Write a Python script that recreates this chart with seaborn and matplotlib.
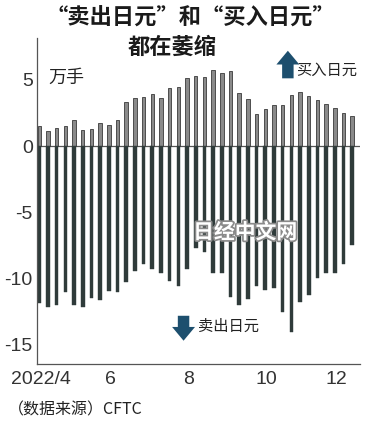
import matplotlib
matplotlib.use('Agg')
import matplotlib.pyplot as plt
import matplotlib.patheffects as pe
import numpy as np
import pandas as pd
import seaborn as sns

# weekly CFTC yen positions, 10k contracts, from 2022/4
buy_yen = [1.53, 1.10, 1.35, 1.50, 1.93, 1.20, 1.30, 1.75, 1.60, 1.93,
           3.33, 3.65, 3.73, 3.93, 3.60, 4.35, 4.45, 5.10, 5.30, 5.20,
           5.75, 5.50, 5.68, 4.03, 3.55, 2.38, 2.78, 3.13, 3.13, 3.85,
           4.10, 3.80, 3.45, 3.18, 2.90, 2.48, 2.30]
sell_yen = [-11.84, -12.17, -12.02, -11.00, -11.97, -12.17, -11.44, -11.59, -10.96, -11.00,
            -10.23, -9.42, -8.89, -9.29, -9.55, -10.20, -10.53, -9.27, -7.70, -8.00,
            -9.57, -9.57, -11.40, -12.00, -11.56, -10.53, -10.86, -10.73, -12.50, -14.00,
            -11.80, -11.24, -9.97, -9.55, -9.55, -8.89, -7.50]
tick_idx = [0, 8, 17, 26, 34]
tick_labels = ['2022/4', '6', '8', '10', '12']
y_ticks = [5, 0, -5, -10, -15]

df = pd.DataFrame({'week': range(len(buy_yen)), 'buy': buy_yen, 'sell': sell_yen})

sns.set_style('white')
plt.rcParams['font.family'] = ['Noto Sans CJK SC', 'DejaVu Sans']
num_font = ['Liberation Sans Narrow', 'Liberation Sans', 'DejaVu Sans']

fig = plt.figure(figsize=(3.7, 4.25), dpi=100)
ax = fig.add_axes([0.1, 0.1435, 0.873, 0.767])

sns.barplot(data=df, x='week', y='buy', color='#8a8a8a', edgecolor='#3a3a3a',
            linewidth=0.6, width=0.4, saturation=1, ax=ax)
sns.barplot(data=df, x='week', y='sell', color='#2f3b3a', edgecolor='#2f3b3a',
            linewidth=0.3, width=0.42, saturation=1, ax=ax)

ax.axhline(0, color='#555555', lw=0.9, zorder=0.5)
ax.set_xlim(-0.26, 36.9)
ax.set_ylim(-16.45, 8.15)
ax.set_xlabel('')
ax.set_ylabel('')
ax.set_xticks([i + 0.15 for i in tick_idx])
ax.set_xticklabels(tick_labels, fontsize=14, family=num_font, color='#333333')
ax.set_yticks(y_ticks)
ax.set_yticklabels([str(v) for v in y_ticks], fontsize=14, family=num_font, color='#333333')
ax.tick_params(axis='both', direction='in', length=4, width=0.8, color='#555555')
ax.tick_params(axis='x', pad=5)
ax.tick_params(axis='y', pad=3)
for s in ['top', 'right']:
    ax.spines[s].set_visible(False)
for s in ['left', 'bottom']:
    ax.spines[s].set_color('#555555')
    ax.spines[s].set_linewidth(0.9)

fig.text(0.515, 0.958, '“卖出日元”和“买入日元”', ha='center', va='center',
         fontsize=16, fontweight='bold', color='#1a1a1a')
fig.text(0.465, 0.888, '都在萎缩', ha='center', va='center',
         fontsize=16, fontweight='bold', color='#1a1a1a')

ax.text(0.035, 0.905, '万手', transform=ax.transAxes, ha='left', va='top',
        fontsize=13, color='#222222')

arrow_c = '#1d4f6e'
arrow_style = 'simple,head_width=1.5,head_length=0.9,tail_width=0.75'
ax.annotate('', xy=(28.6, 7.4), xytext=(28.6, 4.9),
            arrowprops=dict(arrowstyle=arrow_style, color=arrow_c, lw=0, mutation_scale=11))
ax.text(29.6, 5.75, '买入日元', ha='left', va='center', fontsize=11, color='#222222')
ax.annotate('', xy=(16.6, -14.9), xytext=(16.6, -12.6),
            arrowprops=dict(arrowstyle=arrow_style, color=arrow_c, lw=0, mutation_scale=11))
ax.text(18.3, -13.6, '卖出日元', ha='left', va='center', fontsize=11, color='#222222')

ax.text(23.7, -6.5, '日经中文网', ha='center', va='center', fontsize=15,
        fontweight='bold', color='white', zorder=5,
        path_effects=[pe.withStroke(linewidth=2.5, foreground='#8a8a8a')])

fig.text(0.02, 0.035, '（数据来源）CFTC', ha='left', va='center',
         fontsize=11.5, fontweight='medium', color='#222222')

fig.savefig('out.png', dpi=100)
